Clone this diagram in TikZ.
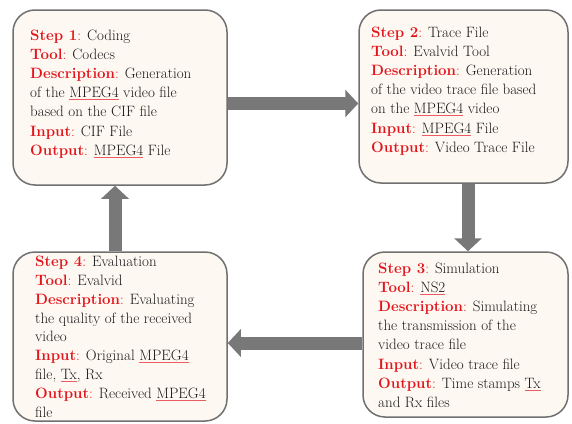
\documentclass[tikz,border=0pt]{standalone}
\usetikzlibrary{arrows.meta}
\definecolor{lbl}{HTML}{E3141B}
\definecolor{boxfill}{HTML}{FDF8F2}
\definecolor{boxline}{HTML}{707070}
\definecolor{arr}{HTML}{787878}
\definecolor{txt}{HTML}{1A1A1A}
\newcommand\lb[1]{\textcolor{lbl}{\textbf{#1}:}}
\newcommand\sq[1]{{\color{lbl!70}\underline{\color{txt}#1}}}
\begin{document}
\begin{tikzpicture}[x=1pt,y=-1pt,
  box/.style={draw=boxline, line width=1.5pt, fill=boxfill, rounded corners=22pt, inner sep=0pt},
  desc/.style={anchor=north west, inner sep=0pt, align=left, text=txt, font=\fontsize{15}{19.2}\selectfont},
  flow/.style={draw=arr, line width=13pt, -{Triangle[length=13pt,width=27pt]}}]
\useasboundingbox (0,0) rectangle (572,423);
\node[box, minimum width=214pt, minimum height=175pt] (b1) at (120,97.5) {};
\node[box, minimum width=209pt, minimum height=173pt] (b2) at (463.5,96.5) {};
\node[box, minimum width=205pt, minimum height=165pt] (b3) at (465.5,334.5) {};
\node[box, minimum width=214pt, minimum height=169pt] (b4) at (120,336.5) {};

\draw[flow] ([yshift=-6pt]b1.east) -- ([yshift=-6pt]b1.east -| b2.west);
\draw[flow] ([xshift=4.5pt]b2.south) -- ([xshift=4.5pt]b2.south |- b3.north);
\draw[flow] ([yshift=-8.5pt]b3.west) -- ([yshift=-8.5pt]b3.west -| b4.east);
\draw[flow] ([xshift=-5pt]b4.north) -- ([xshift=-5pt]b4.north |- b1.south);

\node[desc] (t1) at (30,29.5) {\lb{Step 1} Coding\\
\lb{Tool} Codecs\\
\lb{Description} Generation\\
of the \sq{MPEG4} video file\\
based on the CIF file\\
\lb{Input} CIF File\\
\lb{Output} \sq{MPEG4} File};

\node[desc] (t2) at (371,26.5) {\lb{Step 2} Trace File\\
\lb{Tool} Evalvid Tool\\
\lb{Description} Generation\\
of the video trace file based\\
on the \sq{MPEG4} video\\
\lb{Input} \sq{MPEG4} File\\
\lb{Output} Video Trace File};

\node[desc] (t3) at (378,262.5) {\lb{Step 3} Simulation\\
\lb{Tool} \sq{NS2}\\
\lb{Description} Simulating\\
the transmission of the\\
video trace file\\
\lb{Input} Video trace file\\
\lb{Output} Time stamps \sq{Tx}\\
and Rx files};

\node[desc, font=\fontsize{15}{18.8}\selectfont] (t4) at (35,256) {\lb{Step 4} Evaluation\\
\lb{Tool} Evalvid\\
\lb{Description} Evaluating\\
the quality of the received\\
video\\
\lb{Input} Original \sq{MPEG4}\\
file, \sq{Tx}, Rx\\
\lb{Output} Received \sq{MPEG4}\\
file};
\end{tikzpicture}
\end{document}
